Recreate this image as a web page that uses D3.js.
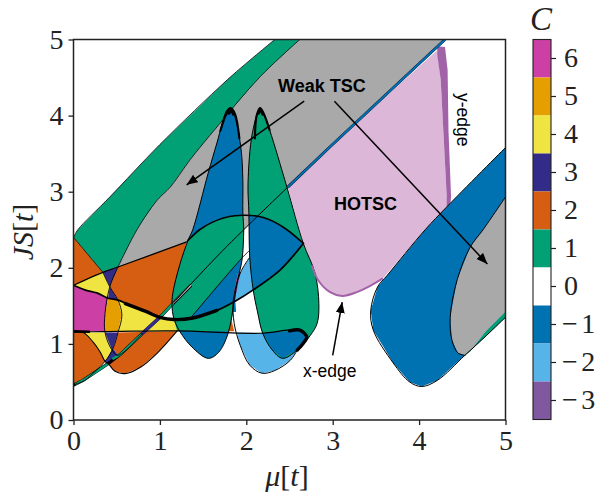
<!DOCTYPE html>
<html>
<head>
<meta charset="utf-8">
<script src="https://cdn.jsdelivr.net/npm/d3@7"></script>
<style>
  body { margin: 0; background: #fff; }
  svg { display: block; }
</style>
</head>
<body>
<svg id="chart"></svg>
<script>
// 1: DATA - every region is a list of [mu, JS] pairs
const xTicks = [0, 1, 2, 3, 4, 5];
const yTicks = [0, 1, 2, 3, 4, 5];
const chernValues = [6, 5, 4, 3, 2, 1, 0, -1, -2, -3];

const upperEdge = [[0, 2.40], [0.05, 2.50], [0.42, 2.93], [1.00, 3.62], [1.78, 4.47], [2.16, 4.84], [2.33, 5.00]];
const grayEdge = [[0.515, 2.01], [0.735, 2.50], [0.97, 2.89], [1.12, 3.06], [1.35, 3.42], [1.66, 3.85], [2.16, 4.51], [2.62, 5.00]];
const diagonalTop = [[4.30, 5.00], [2.97, 3.59], [2.48, 3.06]];
const diagonalLow = [[2.48, 3.06], [1.73, 2.23], [1.15, 1.53]];

const blueLobe = [[5.00, 3.58], [4.32, 2.80], [4.07, 2.50], [3.63, 1.90], [3.52, 1.75], [3.44, 1.44], [3.47, 1.18], [3.70, 0.75], [3.89, 0.50], [4.03, 0.44], [4.21, 0.52], [4.53, 0.85], [4.78, 1.11], [5.00, 1.35]];
const grayLobe = [[5.00, 2.93], [4.74, 2.50], [4.59, 2.27], [4.44, 1.84], [4.36, 1.35], [4.38, 1.05], [4.45, 0.88], [4.53, 0.85], [4.59, 0.90], [4.78, 1.17], [5.00, 1.42]];
const grayLobeEdge = [[5.00, 2.93], [4.74, 2.50], [4.59, 2.27], [4.44, 1.84], [4.36, 1.35], [4.38, 1.05], [4.45, 0.88], [4.53, 0.85]];
const greenSliver = [[4.53, 0.85], [4.59, 0.90], [4.78, 1.17], [5.00, 1.42], [5.00, 1.35], [4.78, 1.11]];

const xEdgeArc = [[3.58, 1.86], [3.43, 1.76], [3.28, 1.68], [3.11, 1.63], [2.97, 1.68], [2.83, 1.84], [2.76, 2.03]];
const pinkRegion = [[4.21, 4.86], [4.25, 4.47], [4.28, 3.81], [4.32, 2.93], [4.34, 2.82], [4.07, 2.50], [3.58, 1.86], [3.43, 1.76], [3.28, 1.68], [3.11, 1.63], [2.97, 1.68], [2.83, 1.84], [2.76, 2.03], [2.66, 2.32], [2.48, 3.06], [2.97, 3.59]];
const yEdgeBand = [[4.21, 4.91], [4.30, 4.90], [4.33, 4.60], [4.34, 3.81], [4.37, 2.93], [4.36, 2.82], [4.32, 2.80], [4.32, 2.93], [4.28, 3.81], [4.25, 4.47], [4.21, 4.80]];

const curveThick = [[0, 1.77], [0.13, 1.71], [0.27, 1.67], [0.40, 1.60], [0.515, 1.575], [0.65, 1.51], [0.83, 1.43], [1.00, 1.35], [1.16, 1.32], [1.38, 1.34], [1.66, 1.44], [1.87, 1.56], [2.08, 1.71], [2.39, 1.97], [2.66, 2.32]];
const lineHorizontal = [[0, 1.165], [0.11, 1.16], [0.515, 1.165], [1.20, 1.17], [2.16, 1.14], [2.62, 1.18], [2.70, 1.09], [2.66, 1.01], [2.59, 0.92]];
const arch = [[1.325, 2.36], [1.46, 2.50], [1.61, 2.60], [1.79, 2.67], [1.96, 2.69], [2.12, 2.68], [2.27, 2.63], [2.47, 2.50], [2.66, 2.32]];
const cornerLine = [[0, 1.77], [0.34, 1.94], [0.515, 2.01], [1.31, 2.34]];
const cornerGreen = [[0, 2.40], [0.34, 1.94]];
const lensOuter = [[0.515, 2.01], [0.42, 1.75], [0.365, 1.40], [0.365, 1.15], [0.445, 0.92], [0.515, 0.85], [0.80, 1.14]];
const lensInner = [[0.34, 1.94], [0.42, 1.75], [0.515, 1.575], [0.56, 1.38], [0.515, 1.15], [0.457, 0.94], [0.365, 0.77], [0.25, 0.64], [0.13, 0.52], [0, 0.46]];
const lowerLobeEdge = [[0, 1.15], [0.11, 1.15], [0.23, 1.02], [0.31, 0.89], [0.365, 0.77], [0.41, 0.73], [0.48, 0.64], [0.60, 0.61], [0.77, 0.69], [0.97, 0.88], [1.20, 1.17]];
const lineB = [[2.04, 2.23], [1.95, 2.13], [1.37, 1.36]];

const cornerOrange = [[0, 2.40], [0.34, 1.94], [0, 1.77]];
const bigOrange = [[0.515, 2.01], [1.31, 2.34], [1.15, 1.67], [1.15, 1.53], [1.00, 1.35], [0.83, 1.43], [0.65, 1.51], [0.515, 1.575], [0.42, 1.75]];
const lowOrange = [[0.515, 1.15], [1.20, 1.17], [0.97, 0.88], [0.77, 0.69], [0.60, 0.61], [0.48, 0.64], [0.41, 0.73], [0.515, 0.85], [0.457, 0.94]];
const leftOrange = [[0, 1.15], [0.11, 1.15], [0.23, 1.02], [0.31, 0.89], [0.365, 0.77], [0.25, 0.64], [0.13, 0.52], [0, 0.46]];
const yellowTop = [[0, 1.77], [0.34, 1.94], [0.42, 1.75], [0.40, 1.60], [0.27, 1.67], [0.13, 1.71]];
const magentaCell = [[0, 1.77], [0.13, 1.71], [0.27, 1.67], [0.40, 1.60], [0.365, 1.40], [0.365, 1.165], [0, 1.165]];
const darkTop = [[0.34, 1.94], [0.515, 2.01], [0.42, 1.75]];
const darkSecond = [[0.42, 1.75], [0.515, 1.575], [0.40, 1.60]];
const goldLens = [[0.40, 1.60], [0.515, 1.575], [0.56, 1.38], [0.515, 1.165], [0.365, 1.165], [0.365, 1.40]];
const yellowBig = [[0.515, 1.575], [0.65, 1.51], [0.83, 1.43], [1.00, 1.35], [1.16, 1.32], [1.21, 1.19], [1.20, 1.165], [0.515, 1.165], [0.56, 1.38]];
const darkTip = [[1.175, 1.30], [1.29, 1.285], [1.21, 1.19]];
const yellowLow = [[0.11, 1.15], [0.365, 1.15], [0.445, 0.92], [0.39, 0.81], [0.365, 0.77], [0.31, 0.89], [0.23, 1.02]];
const darkLens = [[0.365, 1.15], [0.515, 1.15], [0.457, 0.94], [0.445, 0.92]];
const darkDiamond = [[0.365, 0.77], [0.39, 0.81], [0.445, 0.92], [0.457, 0.94], [0.515, 0.85], [0.41, 0.73]];

const bellLeft = [[1.82, 4.10], [1.78, 4.08], [1.66, 3.64], [1.56, 3.25], [1.38, 2.50], [1.325, 2.36], [1.23, 2.04], [1.15, 1.67], [1.14, 1.51], [1.16, 1.34], [1.23, 1.165], [1.37, 0.96], [1.56, 0.81], [1.68, 0.89], [1.79, 1.14], [1.86, 1.57], [1.90, 1.84], [1.95, 2.10], [1.97, 2.50], [1.96, 2.72], [1.96, 3.15], [1.94, 3.55], [1.87, 3.98]];
const bellRight = [[2.16, 4.10], [2.07, 3.77], [2.02, 3.11], [2.03, 2.72], [2.04, 2.14], [2.08, 1.71], [2.13, 1.42], [2.19, 1.14], [2.30, 0.92], [2.42, 0.81], [2.59, 0.92], [2.74, 1.11], [2.82, 1.27], [2.84, 1.53], [2.795, 1.93], [2.66, 2.32], [2.47, 3.06], [2.27, 3.81], [2.19, 4.05]];
const middleLobe = [[2.04, 2.14], [1.93, 1.93], [1.85, 1.575], [1.86, 1.27], [1.93, 0.98], [2.04, 0.72], [2.18, 0.615], [2.33, 0.65], [2.51, 0.785], [2.59, 0.92], [2.42, 0.81], [2.30, 0.92], [2.19, 1.14], [2.13, 1.42], [2.08, 1.71]];
const whiteCell = [[2.08, 1.71], [1.87, 1.56], [1.85, 1.42], [1.86, 1.15], [2.19, 1.14], [2.13, 1.42]];
const greenUpperLeft = [[1.325, 2.36], [1.46, 2.50], [1.61, 2.60], [1.79, 2.67], [1.96, 2.69], [1.97, 2.50], [1.95, 2.13], [1.37, 1.36], [1.16, 1.33], [1.14, 1.51], [1.15, 1.67], [1.23, 2.04]];
const blueTriangle = [[1.95, 2.13], [1.37, 1.36], [1.66, 1.44], [1.87, 1.56], [1.90, 1.84]];
const greenLowerLeft = [[1.16, 1.33], [1.38, 1.34], [1.66, 1.44], [1.87, 1.56], [1.83, 1.31], [1.79, 1.165], [1.20, 1.17]];
const orangeSliver = [[1.83, 1.31], [1.79, 1.165], [1.86, 1.165]];
const purpleSliver = [[1.90, 1.93], [1.85, 1.64], [1.87, 1.60], [1.93, 1.93]];
const blueSliver = [[1.85, 1.575], [1.85, 1.42], [1.88, 1.42], [1.87, 1.56]];
const blueArchRight = [[2.03, 2.69], [2.12, 2.68], [2.27, 2.63], [2.47, 2.50], [2.66, 2.32], [2.39, 1.97], [2.08, 1.71], [2.04, 2.14]];
const blueUnderRight = [[2.19, 1.14], [2.62, 1.18], [2.70, 1.09], [2.66, 1.01], [2.59, 0.92], [2.42, 0.81], [2.30, 0.92]];

const stripPath = [[0, 0.46], [0.11, 0.52], [0.40, 0.74], [0.54, 0.86], [0.79, 1.13], [1.00, 1.35], [1.15, 1.53], [1.36, 1.77]];
const stripGreenLow = [[0.02, 0.47], [0.11, 0.52], [0.40, 0.74]];
const stripGreenMid = [[0.45, 0.80], [0.54, 0.86], [0.79, 1.13]];
const stripDark = [[0.79, 1.13], [1.00, 1.35]];
const stripGreenTop = [[1.00, 1.35], [1.15, 1.53]];
const stripPale = [[1.15, 1.53], [1.36, 1.77]];

const apexLeft = [[1.70, 3.80], [1.78, 4.05], [1.82, 4.10], [1.87, 4.02], [1.92, 3.70]];
const apexRight = [[2.10, 3.70], [2.12, 4.00], [2.16, 4.10], [2.20, 4.03], [2.27, 3.81]];
const apexLeftTip = [[1.80, 4.03], [1.82, 4.08], [1.85, 4.02]];
const apexRightTip = [[2.14, 4.03], [2.16, 4.08], [2.19, 4.02]];
const thickMiddle = [[0.60, 1.53], [0.83, 1.43], [1.00, 1.35], [1.16, 1.32], [1.38, 1.34], [1.66, 1.44]];
const thickEnd = [[2.50, 1.17], [2.62, 1.18], [2.70, 1.09], [2.66, 1.01], [2.59, 0.92]];
const thickStart = [[0, 1.165], [0.18, 1.16]];

const arrowLeft = [[2.67, 4.19], [1.31, 3.09]];
const arrowRight = [[3.02, 4.19], [4.79, 2.05]];
const arrowEdge = [[3.00, 0.85], [3.11, 1.55]];

// 2: SIZES AND SCALES
const width = 599;
const height = 496;
const plot = { left: 73.5, right: 505.5, top: 39.5, bottom: 420 };
const bar = { left: 533, right: 551, top: 39.5, bottom: 419.5 };
const serif = "'Liberation Serif', 'DejaVu Serif', serif";
const sans = "'Liberation Sans', Arial, sans-serif";

const xScale = d3.scaleLinear().domain([0, 5]).range([plot.left, plot.right]);
const yScale = d3.scaleLinear().domain([0, 5]).range([plot.bottom, plot.top]);
const barScale = d3.scaleBand().domain(chernValues).range([bar.top, bar.bottom]);

const colors = {
    "-3": "#8058a0", "-2": "#56b4e9", "-1": "#0072b2", "0": "#ffffff", "1": "#02a075",
    "2": "#d55e13", "3": "#332b88", "4": "#f0e442", "5": "#e69f00", "6": "#cc3fa5",
    weak: "#a9a9a9", hotsc: "#dcb7d8", edge: "#a162a8"
};

const straight = d3.line().x(d => xScale(d[0])).y(d => yScale(d[1]));
const smooth = d3.line().x(d => xScale(d[0])).y(d => yScale(d[1])).curve(d3.curveCatmullRom.alpha(0.5));
const smoothClosed = d3.line().x(d => xScale(d[0])).y(d => yScale(d[1])).curve(d3.curveCatmullRomClosed.alpha(0.5));

const svg = d3.select("#chart").attr("width", width).attr("height", height);

svg.append("defs").append("clipPath").attr("id", "plotClip")
    .append("rect")
    .attr("x", plot.left).attr("y", plot.top)
    .attr("width", plot.right - plot.left).attr("height", plot.bottom - plot.top);

const marker = svg.select("defs").append("marker")
    .attr("id", "head").attr("markerUnits", "userSpaceOnUse")
    .attr("markerWidth", 12).attr("markerHeight", 10)
    .attr("refX", 11).attr("refY", 4.5).attr("orient", "auto");
marker.append("path").attr("d", "M0,0 L11,4.5 L0,9 Z").attr("fill", "#000");

const g = svg.append("g").attr("clip-path", "url(#plotClip)");

// 3: FILLED REGIONS, back to front
const greenBand = upperEdge.concat(grayEdge.slice().reverse(), [[0.34, 1.94]]);
const grayWedge = grayEdge.concat(diagonalTop, [[1.73, 2.23], [1.31, 2.34]]);

const backRegions = [
    [greenBand, "1"], [grayWedge, "weak"], [pinkRegion, "hotsc"], [yEdgeBand, "edge"],
    [blueLobe, "-1"], [grayLobe, "weak"], [greenSliver, "1"],
    [cornerOrange, "2"], [bigOrange, "2"], [lowOrange, "2"], [leftOrange, "2"],
    [yellowTop, "4"], [magentaCell, "6"], [darkTop, "3"], [darkSecond, "3"], [goldLens, "5"],
    [yellowBig, "4"], [darkTip, "3"], [yellowLow, "4"], [darkLens, "3"], [darkDiamond, "3"],
    [middleLobe, "-2"], [whiteCell, "0"]
];
const leftBellRegions = [
    [greenUpperLeft, "1"], [blueTriangle, "-1"], [greenLowerLeft, "1"],
    [orangeSliver, "2"], [purpleSliver, "-3"], [blueSliver, "-1"]
];
const rightBellRegions = [[blueArchRight, "-1"], [blueUnderRight, "-1"]];

function fillRegions(regions) {
    g.selectAll(null)
        .data(regions)
        .enter()
        .append("path")
        .attr("d", d => straight(d[0]))
        .attr("fill", d => colors[d[1]]);
}

fillRegions(backRegions);
g.append("path").attr("d", smoothClosed(bellLeft)).attr("fill", colors["-1"]);
fillRegions(leftBellRegions);
g.append("path").attr("d", smoothClosed(bellRight)).attr("fill", colors["1"]);
fillRegions(rightBellRegions);
// the purple sliver sits on the seam between the left bell and the middle lobe
fillRegions([[purpleSliver, "-3"], [blueSliver, "-1"]]);

// 4: THE THIN DIAGONAL STRIP
const strips = [
    [stripGreenLow, colors["1"], 2.4], [stripGreenMid, colors["1"], 2.4],
    [stripDark, colors["3"], 3.2], [stripGreenTop, colors["1"], 2.4], [stripPale, "#d0d0d0", 1.4]
];
g.append("path").attr("d", straight(stripPath))
    .attr("fill", "none").attr("stroke", "#000").attr("stroke-width", 3.2);
g.selectAll(null)
    .data(strips)
    .enter()
    .append("path")
    .attr("d", d => straight(d[0]))
    .attr("fill", "none")
    .attr("stroke", d => d[1])
    .attr("stroke-width", d => d[2]);

// 5: BOUNDARY LINES
const boundaries = [
    [upperEdge, 0.8], [grayEdge, 0.8], [cornerLine, 1.2], [cornerGreen, 0.8], [lensOuter, 0.9], [lensInner, 0.9],
    [lowerLobeEdge, 1.1], [blueLobe, 1], [grayLobeEdge, 1], [lineB, 0.9], [diagonalLow, 1],
    [arch, 1.6], [lineHorizontal, 1.2], [curveThick, 1.8],
    [thickMiddle, 3.4], [thickEnd, 3.4], [thickStart, 2.6],
    [apexLeft, 2.1], [apexRight, 2.1], [apexLeftTip, 3], [apexRightTip, 3]
];
g.selectAll(null)
    .data(boundaries)
    .enter()
    .append("path")
    .attr("d", d => smooth(d[0]))
    .attr("fill", "none")
    .attr("stroke", "#000")
    .attr("stroke-width", d => d[1])
    .attr("stroke-linecap", "round");

g.append("path").attr("d", smoothClosed(bellLeft)).attr("fill", "none").attr("stroke", "#000").attr("stroke-width", 1);
g.append("path").attr("d", smoothClosed(bellRight)).attr("fill", "none").attr("stroke", "#000").attr("stroke-width", 1);
g.append("path").attr("d", smooth(middleLobe.slice(0, 10))).attr("fill", "none").attr("stroke", "#000").attr("stroke-width", 1);

// purple edges of the HOTSC region and the blue seam on the long diagonal
g.append("path").attr("d", smooth(xEdgeArc)).attr("fill", "none").attr("stroke", colors.edge).attr("stroke-width", 2);
g.append("path").attr("d", straight(diagonalTop)).attr("fill", "none").attr("stroke", "#113").attr("stroke-width", 2.8);
g.append("path").attr("d", straight(diagonalTop)).attr("fill", "none").attr("stroke", colors["-1"]).attr("stroke-width", 2);

// 6: ARROWS
[arrowLeft, arrowRight, arrowEdge].forEach(a => {
    svg.append("path")
        .attr("d", straight(a))
        .attr("fill", "none")
        .attr("stroke", "#000")
        .attr("stroke-width", 1.5)
        .attr("marker-end", "url(#head)");
});

// 7: AXES
const xAxis = svg.append("g")
    .attr("transform", `translate(0,${plot.bottom})`)
    .call(d3.axisBottom(xScale).tickValues(xTicks).tickFormat(d3.format("d")).tickSize(5).tickPadding(5));
const yAxis = svg.append("g")
    .attr("transform", `translate(${plot.left},0)`)
    .call(d3.axisLeft(yScale).tickValues(yTicks).tickFormat(d3.format("d")).tickSize(5).tickPadding(5));

svg.append("rect")
    .attr("x", plot.left).attr("y", plot.top)
    .attr("width", plot.right - plot.left).attr("height", plot.bottom - plot.top)
    .attr("fill", "none").attr("stroke", "#222").attr("stroke-width", 1.5);

[xAxis, yAxis].forEach(a => {
    a.select(".domain").remove();
    a.selectAll(".tick line").attr("stroke", "#222").attr("stroke-width", 1.3);
    a.selectAll(".tick text").attr("font-family", serif).attr("font-size", 28).attr("fill", "#222");
});

// 8: COLOUR BAR
svg.selectAll(".cell")
    .data(chernValues)
    .enter()
    .append("rect")
    .attr("class", "cell")
    .attr("x", bar.left)
    .attr("y", d => barScale(d))
    .attr("width", bar.right - bar.left)
    .attr("height", barScale.bandwidth())
    .attr("fill", d => colors[d]);

svg.append("rect")
    .attr("x", bar.left).attr("y", bar.top)
    .attr("width", bar.right - bar.left).attr("height", bar.bottom - bar.top)
    .attr("fill", "none").attr("stroke", "#222").attr("stroke-width", 1.1);

const barAxis = svg.append("g")
    .attr("transform", `translate(${bar.right},0)`)
    .call(d3.axisRight(barScale).tickFormat(d => d < 0 ? "\u2212" + (-d) : d).tickSize(5).tickPadding(5));
barAxis.select(".domain").remove();
barAxis.selectAll(".tick line").attr("stroke", "#222").attr("stroke-width", 1.2);
barAxis.selectAll(".tick text")
    .attr("font-family", serif).attr("font-size", 28).attr("fill", "#222")
    .attr("letter-spacing", d => d < 0 ? 3.5 : 0)
    .attr("dx", d => d < 0 ? 1 : 3);

// 9: LABELS
function addMath(parent, parts) {
    parts.forEach(p => {
        parent.append("tspan").attr("font-style", p[1] ? "italic" : "normal").text(p[0]);
    });
}

addMath(svg.append("text")
    .attr("x", 287).attr("y", 486)
    .attr("text-anchor", "middle").attr("font-family", serif).attr("font-size", 30).attr("fill", "#222"),
    [["\u03bc", true], ["[", false], ["t", true], ["]", false]]);

addMath(svg.append("text")
    .attr("transform", "translate(33,232) rotate(-90)")
    .attr("text-anchor", "middle").attr("font-family", serif).attr("font-size", 30).attr("fill", "#222"),
    [["JS", true], ["[", false], ["t", true], ["]", false]]);

svg.append("text")
    .attr("x", 541).attr("y", 30)
    .attr("text-anchor", "middle").attr("font-family", serif).attr("font-style", "italic")
    .attr("font-size", 33).attr("fill", "#222")
    .text("C");

svg.append("text").attr("x", 278).attr("y", 92)
    .attr("font-family", sans).attr("font-weight", "bold").attr("font-size", 18).text("Weak TSC");
svg.append("text").attr("x", 334).attr("y", 210)
    .attr("font-family", sans).attr("font-weight", "bold").attr("font-size", 18).text("HOTSC");
svg.append("text").attr("x", 303).attr("y", 377)
    .attr("font-family", sans).attr("font-size", 17.5).text("x-edge");
svg.append("text").attr("transform", "translate(457,93) rotate(90)")
    .attr("font-family", sans).attr("font-size", 17.5).text("y-edge");
</script>
</body>
</html>
